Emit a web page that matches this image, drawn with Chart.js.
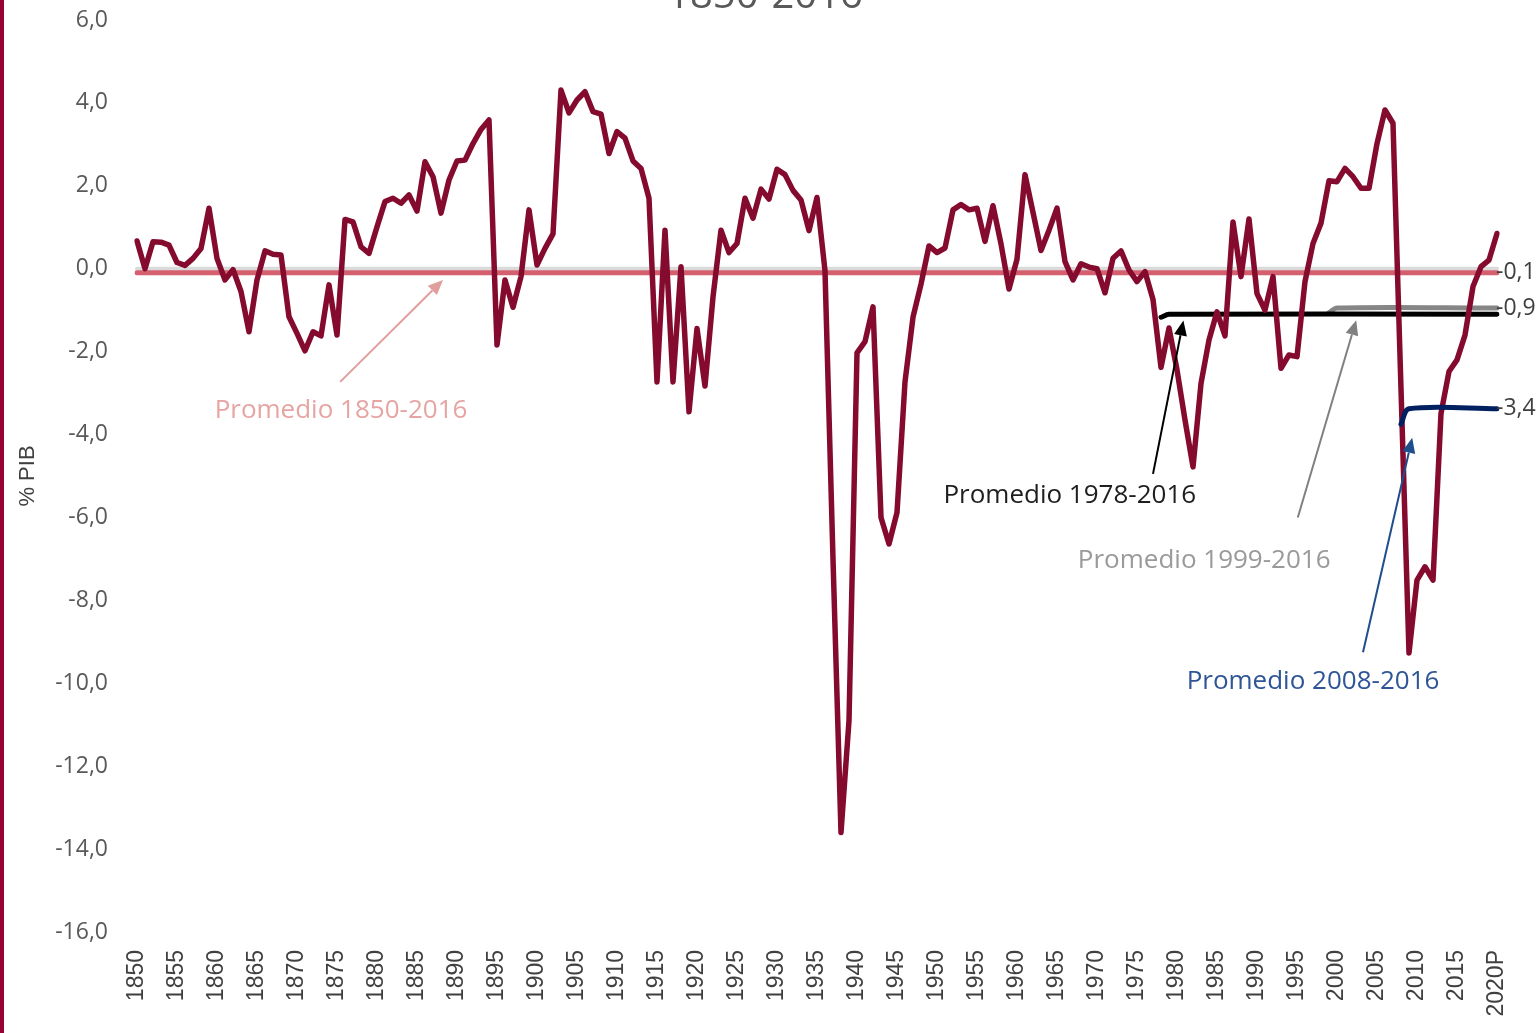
<!DOCTYPE html>
<html>
<head>
<meta charset="utf-8">
<script src="https://cdn.jsdelivr.net/npm/chart.js@4/dist/chart.umd.min.js"></script>
<style>
  html, body { margin: 0; padding: 0; background: #fff; }
  #wrap { position: relative; width: 1536px; height: 1033px; overflow: hidden; }
  #edge { position: absolute; left: 0; top: 0; width: 4px; height: 100%; background: #990033; }
</style>
</head>
<body>
<div id="wrap"><canvas id="chart" width="1536" height="1033"></canvas><div id="edge"></div></div>
<script>
// categories: one per year, last one is a forecast
const firstYear = 1850;
const lastYear = 2020;
const years = [];
for (let y = firstYear; y <= lastYear; y++) years.push(y === lastYear ? y + 'P' : String(y));

// saldo, % PIB, 1850 .. 2020P
const balance = [
  0.67, 0.0, 0.65, 0.64, 0.57, 0.15, 0.08, 0.25, 0.49, 1.46,
  0.25, -0.27, -0.02, -0.55, -1.52, -0.27, 0.43, 0.35, 0.33, -1.16,
  -1.56, -1.98, -1.52, -1.62, -0.39, -1.6, 1.19, 1.13, 0.53, 0.37,
  1.01, 1.62, 1.7, 1.58, 1.78, 1.39, 2.58, 2.22, 1.34, 2.14,
  2.6, 2.62, 3.02, 3.36, 3.59, -1.84, -0.27, -0.93, -0.19, 1.42,
  0.09, 0.49, 0.84, 4.31, 3.76, 4.07, 4.27, 3.79, 3.73, 2.78,
  3.31, 3.15, 2.6, 2.42, 1.7, -2.73, 0.93, -2.73, 0.05, -3.45,
  -1.44, -2.83, -0.68, 0.93, 0.39, 0.61, 1.7, 1.22, 1.92, 1.68,
  2.4, 2.27, 1.89, 1.66, 0.92, 1.72, -0.05, -7.0, -13.6, -10.9,
  -2.03, -1.76, -0.92, -6.0, -6.64, -5.88, -2.73, -1.17, -0.37, 0.55,
  0.39, 0.5, 1.42, 1.55, 1.42, 1.46, 0.66, 1.52, 0.6, -0.49,
  0.23, 2.27, 1.36, 0.44, 0.93, 1.46, 0.17, -0.27, 0.12, 0.04,
  0.0, -0.58, 0.25, 0.43, -0.03, -0.31, -0.07, -0.74, -2.38, -1.43,
  -2.44, -3.65, -4.78, -2.77, -1.72, -1.04, -1.62, 1.13, -0.19, 1.2,
  -0.6, -1.0, -0.19, -2.4, -2.08, -2.12, -0.31, 0.61, 1.1, 2.12,
  2.1, 2.42, 2.22, 1.94, 1.94, 3.02, 3.83, 3.51, -2.9, -9.27,
  -7.51, -7.19, -7.51, -3.49, -2.48, -2.2, -1.6, -0.43, 0.05, 0.21,
  0.85
];

// average lines (start / end points)
const zeroYears = ['1850', '2020P'];
const zeroValues = [0, 0];
const avg1850Years = ['1850', '2020P'];
const avg1850Values = [-0.1, -0.1];
const avg1978Years = ['1978', '1979', '2020P'];
const avg1978Values = [-1.17, -1.1, -1.1];
const avg1999Years = ['1999', '2000', '2020P'];
const avg1999Values = [-1.06, -0.95, -0.95];
const avg2008Years = ['2008', '2009', '2020P'];
const avg2008Values = [-3.75, -3.38, -3.38];

const endLabels = ['-0,1', '-0,9', '-3,4'];
const endLabelValues = [-0.1, -0.95, -3.38];

const yMin = -16, yMax = 6, yStep = 2;

function pts(xs, ys) { return xs.map((x, i) => ({ x, y: ys[i] })); }

// callouts, in data units (x = year)
const notes = [
  { text: 'Promedio 1850-2016', color: '#E6A5A3', arrow: '#E09E9C', tx: 1875.5, ty: -3.43, ax: 1875.4, ay: -2.73, hx: 1888.25, hy: -0.27 },
  { text: 'Promedio 1978-2016', color: '#1E1E1E', arrow: '#000000', tx: 1966.6, ty: -5.48, ax: 1977.0, ay: -4.95, hx: 1980.8, hy: -1.25 },
  { text: 'Promedio 1999-2016', color: '#9A9A9A', arrow: '#808080', tx: 1983.4, ty: -7.05, ax: 1995.1, ay: -6.0, hx: 2002.4, hy: -1.24 },
  { text: 'Promedio 2008-2016', color: '#2F5597', arrow: '#1F4E8C', tx: 1997.0, ty: -9.95, ax: 2003.25, ay: -9.25, hx: 2009.4, hy: -4.08 }
];

function arrow(ctx, x1, y1, x2, y2, color) {
  const a = Math.atan2(y2 - y1, x2 - x1);
  const len = 15, half = 6.5;
  const bx = x2 - len * Math.cos(a), by = y2 - len * Math.sin(a);
  ctx.strokeStyle = color;
  ctx.fillStyle = color;
  ctx.lineWidth = 2;
  ctx.beginPath();
  ctx.moveTo(x1, y1);
  ctx.lineTo(bx, by);
  ctx.stroke();
  ctx.beginPath();
  ctx.moveTo(x2, y2);
  ctx.lineTo(bx + half * Math.sin(a), by - half * Math.cos(a));
  ctx.lineTo(bx - half * Math.sin(a), by + half * Math.cos(a));
  ctx.closePath();
  ctx.fill();
}

const extras = {
  id: 'extras',
  afterDatasetsDraw(chart) {
    const { ctx, chartArea, scales: { x, y } } = chart;
    const px = yr => x.getPixelForValue(yr - firstYear);
    ctx.save();

    notes.forEach(n => {
      arrow(ctx, px(n.ax), y.getPixelForValue(n.ay), px(n.hx), y.getPixelForValue(n.hy), n.arrow);
      ctx.font = '26px "Open Sans"';
      ctx.fillStyle = n.color;
      ctx.textAlign = 'center';
      ctx.textBaseline = 'middle';
      ctx.fillText(n.text, px(n.tx), y.getPixelForValue(n.ty));
    });

    ctx.font = '23px "Open Sans"';
    ctx.fillStyle = '#404040';
    ctx.textAlign = 'left';
    ctx.textBaseline = 'middle';
    endLabels.forEach((t, i) => ctx.fillText(t, chartArea.right - 1, y.getPixelForValue(endLabelValues[i])));

    ctx.font = '40px "Open Sans"';
    ctx.fillStyle = '#595959';
    ctx.textAlign = 'center';
    ctx.textBaseline = 'alphabetic';
    ctx.fillText('1850-2016', 765, 8);

    ctx.translate(28, 476);
    ctx.rotate(-Math.PI / 2);
    ctx.font = '22px "Liberation Sans"';
    ctx.fillStyle = '#404040';
    ctx.textBaseline = 'middle';
    ctx.fillText('% PIB', 0, 0);
    ctx.restore();
  }
};

const line = (data, color, width, order, tension) => ({
  data, borderColor: color, borderWidth: width, pointRadius: 0, fill: false,
  tension: tension || 0, order, borderJoinStyle: 'round', borderCapStyle: 'round'
});

new Chart(document.getElementById('chart'), {
  type: 'line',
  data: {
    labels: years,
    datasets: [
      line(pts(zeroYears, zeroValues), '#DADADA', 4, 7),
      line(pts(avg1850Years, avg1850Values), '#D4606F', 5, 6),
      line(pts(avg1978Years, avg1978Values), '#000000', 5, 4, 0.3),
      line(pts(avg1999Years, avg1999Values), '#868686', 5, 5, 0.3),
      line(balance, '#840B2E', 5.5, 2),
      line(pts(avg2008Years, avg2008Values), '#002060', 5, 1, 0.3)
    ]
  },
  options: {
    responsive: false,
    animation: false,
    layout: { padding: { top: 20, right: 39, bottom: 0, left: 0 } },
    plugins: { legend: { display: false }, tooltip: { enabled: false } },
    scales: {
      x: {
        type: 'category',
        offset: false,
        grid: { display: false, drawTicks: true, tickLength: 18 },
        border: { display: false },
        afterFit(s) { s.height = 101; },
        ticks: {
          autoSkip: false, minRotation: 90, maxRotation: 90, padding: 0,
          color: '#404040', font: { family: 'Liberation Sans', size: 23 },
          callback: (v, i) => ((firstYear + i) % 5 === 0 ? years[i] : '')
        }
      },
      y: {
        min: yMin, max: yMax,
        grid: { display: false, drawTicks: true, tickLength: 29 },
        border: { display: false },
        afterFit(s) { s.width = 137; },
        ticks: {
          stepSize: yStep, padding: 0,
          color: '#595959', font: { family: 'Open Sans', size: 23 },
          callback: v => v.toFixed(1).replace('.', ',')
        }
      }
    }
  },
  plugins: [extras]
});
</script>
</body>
</html>
